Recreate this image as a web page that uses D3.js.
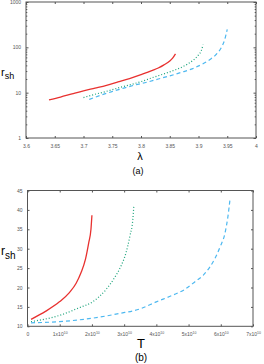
<!DOCTYPE html>
<html lang="en">
<head>
    <meta charset="UTF-8">
    <title>r_sh</title>
    <script src="https://d3js.org/d3.v7.min.js"></script>
    <style>
        html, body{
            margin:0;
            background:#fff;
        }
        text{
            font-family: "Liberation Sans", Arial, sans-serif;
        }
        .tick text{
            fill:#555;
            font-size:5px;
        }
        .frame{
            fill:none;
            stroke:#555;
            stroke-width:1;
        }
    </style>
</head>
<body>
<div id="chart"></div>

<script>
    // panel (a): r_sh vs lambda, log y
    var lamTicks = [3.6, 3.65, 3.7, 3.75, 3.8, 3.85, 3.9, 3.95, 4];
    var rLogTicks = [1, 10, 100, 1000];

    var redA = [[3.64,6.9],[3.66,8.0],[3.68,9.4],[3.70,11],[3.72,12.6],[3.74,14.5],[3.76,17.2],[3.78,20.5],
        [3.80,25],[3.82,31],[3.83,35],[3.84,41],[3.85,50],[3.855,58],[3.86,72]];
    var greenA = [[3.70,7.8],[3.72,9.2],[3.74,10.7],[3.76,12.7],[3.78,14.8],[3.80,17.5],[3.82,21.5],[3.84,26],
        [3.86,32],[3.87,36],[3.88,42],[3.89,51],[3.90,68],[3.905,85],[3.908,115]];
    var blueA = [[3.71,7.1],[3.73,8.8],[3.75,10.6],[3.77,12.6],[3.79,14.8],[3.81,17],[3.83,20],[3.85,23.5],
        [3.87,28],[3.89,34],[3.91,45],[3.92,54],[3.93,68],[3.94,100],[3.945,140],[3.95,250]];

    // panel (b): r_sh vs T (units of 1e10)
    var tTicks = [0, 1, 2, 3, 4, 5, 6, 7];
    var rTicks = [10, 15, 20, 25, 30, 35, 40, 45];

    var redB = [[0.11,11.8],[0.57,13.9],[0.99,16.3],[1.30,18.7],[1.51,21.1],[1.66,23.8],[1.80,27.3],
        [1.90,31.5],[1.97,35],[2.0,38.6]];
    var greenB = [[0.11,11.2],[0.99,12.8],[1.61,14.8],[2.02,16.3],[2.44,19.5],[2.70,22.5],[2.90,25.5],
        [3.06,29],[3.18,33.3],[3.27,37.6],[3.30,41]];
    var blueB = [[0.11,10.9],[0.99,11.2],[2.02,12.1],[2.85,13.3],[3.5,14.5],[4.0,16.3],[4.5,18],[4.86,19.4],
        [5.2,21.5],[5.46,23.2],[5.67,25.4],[5.82,27.5],[5.98,30.5],[6.13,34],[6.22,38.2],[6.29,43]];

    var styles = [
        {color:"#e8312f", dash:null, width:1.3},
        {color:"#1aa37a", dash:"1,2", width:1.2},
        {color:"#4db8f0", dash:"4,3", width:1.2}
    ];

    var svg = d3.select("#chart").append("svg")
        .attr("width", 264)
        .attr("height", 364);

    function frame(g, x, y){
        var r = x.range(), h = y.range();
        g.append("rect").attr("class","frame")
            .attr("x", r[0]).attr("y", h[1])
            .attr("width", r[1]-r[0]).attr("height", h[0]-h[1]);
    }

    function drawLines(g, x, y, series){
        var line = d3.line()
            .x(function(d){ return x(d[0]); })
            .y(function(d){ return y(d[1]); })
            .curve(d3.curveMonotoneX);
        series.forEach(function(s, i){
            g.append("path")
                .datum(s)
                .attr("fill","none")
                .attr("stroke", styles[i].color)
                .attr("stroke-width", styles[i].width)
                .attr("stroke-dasharray", styles[i].dash)
                .attr("d", line);
        });
    }

    function cleanAxis(g){
        g.select(".domain").remove();
        g.selectAll(".tick line").attr("stroke","#555");
    }

    // ---------- panel a ----------
    var xa = d3.scaleLinear().domain([3.6, 4]).range([26, 256]);
    var ya = d3.scaleLog().domain([1, 1000]).range([138, 2]);
    var ga = svg.append("g");

    var minor = [];
    for (var e = 0; e < 3; e++) for (var m = 2; m < 10; m++) minor.push(m*Math.pow(10,e));

    ga.append("g").attr("transform","translate(0,138)")
        .call(d3.axisBottom(xa).tickValues(lamTicks).tickFormat(d3.format("")).tickSizeInner(-2).tickPadding(6))
        .call(cleanAxis);
    ga.append("g").attr("transform","translate(0,2)")
        .call(d3.axisTop(xa).tickValues(lamTicks).tickFormat("").tickSizeInner(-2))
        .call(cleanAxis);
    ga.append("g").attr("transform","translate(26,0)")
        .call(d3.axisLeft(ya).tickValues(rLogTicks).tickFormat(d3.format("")).tickSizeInner(-2.5).tickPadding(5))
        .call(cleanAxis);
    ga.append("g").attr("transform","translate(26,0)")
        .call(d3.axisLeft(ya).tickValues(minor).tickFormat("").tickSizeInner(-1.3))
        .call(cleanAxis);
    ga.append("g").attr("transform","translate(256,0)")
        .call(d3.axisRight(ya).tickValues(rLogTicks).tickFormat("").tickSizeInner(-2.5))
        .call(cleanAxis);
    ga.append("g").attr("transform","translate(256,0)")
        .call(d3.axisRight(ya).tickValues(minor).tickFormat("").tickSizeInner(-1.3))
        .call(cleanAxis);
    frame(ga, xa, ya);
    drawLines(ga, xa, ya, [redA, greenA, blueA]);

    var ra = ga.append("text").attr("x", 1).attr("y", 76).attr("font-size", 11);
    ra.append("tspan").text("r");
    ra.append("tspan").attr("dy", 3).attr("font-size", 9).text("sh");
    ga.append("text").attr("x", 140).attr("y", 160).attr("text-anchor","middle")
        .attr("font-size", 11).text("λ");
    ga.append("text").attr("x", 138).attr("y", 174).attr("text-anchor","middle")
        .attr("font-size", 9).text("(a)");

    // ---------- panel b ----------
    var xb = d3.scaleLinear().domain([0, 7]).range([27.5, 253]);
    var yb = d3.scaleLinear().domain([10, 45]).range([326.3, 190.5]);
    var gb = svg.append("g");

    var bx = gb.append("g").attr("transform","translate(0,326.3)")
        .call(d3.axisBottom(xb).tickValues(tTicks).tickFormat("").tickSizeInner(-2).tickPadding(6))
        .call(cleanAxis);
    bx.selectAll(".tick").append("text")
        .attr("y", 10).attr("text-anchor","middle")
        .each(function(d){
            var t = d3.select(this);
            if (d === 0) { t.text("0"); return; }
            t.append("tspan").text(d + "x10");
            t.append("tspan").attr("dy", -2).attr("font-size", 3.5).text("10");
        });
    gb.append("g").attr("transform","translate(0,190.5)")
        .call(d3.axisTop(xb).tickValues(tTicks).tickFormat("").tickSizeInner(-2))
        .call(cleanAxis);
    gb.append("g").attr("transform","translate(27.5,0)")
        .call(d3.axisLeft(yb).tickValues(rTicks).tickFormat(d3.format("")).tickSizeInner(-2).tickPadding(5))
        .call(cleanAxis);
    gb.append("g").attr("transform","translate(253,0)")
        .call(d3.axisRight(yb).tickValues(rTicks).tickFormat("").tickSizeInner(-2))
        .call(cleanAxis);
    frame(gb, xb, yb);
    drawLines(gb, xb, yb, [redB, greenB, blueB]);

    var rb = gb.append("text").attr("x", 1).attr("y", 255).attr("font-size", 12);
    rb.append("tspan").text("r");
    rb.append("tspan").attr("dy", 4).attr("font-size", 10).text("sh");
    gb.append("text").attr("x", 141).attr("y", 348).attr("text-anchor","middle")
        .attr("font-size", 13).text("T");
    gb.append("text").attr("x", 141).attr("y", 361).attr("text-anchor","middle")
        .attr("font-size", 10).text("(b)");
</script>
</body>
</html>
